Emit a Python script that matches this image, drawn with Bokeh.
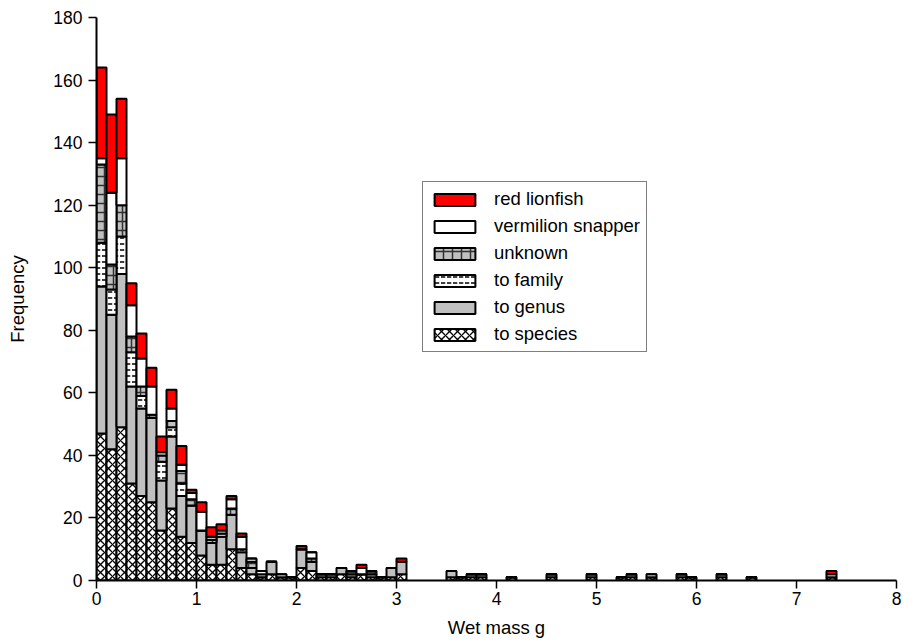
from bokeh.plotting import figure
from bokeh.models import Range1d, Legend, LegendItem, FixedTicker, ColumnDataSource
from bokeh.transform import stack
from bokeh.embed import file_html
from bokeh.resources import INLINE

# ---- data (bin left edges, bin width 0.1 g) ----
bin_left = [0.0, 0.1, 0.2, 0.3, 0.4, 0.5, 0.6, 0.7, 0.8, 0.9,
            1.0, 1.1, 1.2, 1.3, 1.4, 1.5, 1.6, 1.7, 1.8, 1.9,
            2.0, 2.1, 2.2, 2.3, 2.4, 2.5, 2.6, 2.7, 2.8, 2.9,
            3.0, 3.5, 3.6, 3.7, 3.8, 4.1, 4.5, 4.9, 5.2, 5.3,
            5.5, 5.8, 5.9, 6.2, 6.5, 7.3]
to_species = [47, 42, 49, 31, 27, 25, 16, 23, 14, 12,
              8, 5, 5, 10, 4, 2, 1, 2, 1, 1,
              4, 3, 1, 1, 2, 1, 2, 1, 1, 1,
              2, 1, 1, 1, 1, 1, 1, 1, 1, 1,
              1, 1, 1, 1, 1, 1]
to_genus = [47, 43, 49, 31, 28, 27, 16, 23, 13, 12,
            8, 7, 9, 11, 5, 2, 0, 4, 0, 0,
            6, 3, 1, 1, 2, 1, 0, 1, 0, 3,
            4, 2, 0, 1, 1, 0, 1, 1, 0, 1,
            0, 1, 0, 1, 0, 0]
to_family = [14, 8, 12, 11, 4, 0, 6, 3, 4, 0,
             0, 0, 1, 0, 1, 0, 0, 0, 0, 0,
             0, 0, 0, 0, 0, 0, 0, 0, 0, 0,
             0, 0, 0, 0, 0, 0, 0, 0, 0, 0,
             0, 0, 0, 0, 0, 0]
unknown = [25, 8, 10, 5, 3, 1, 2, 2, 4, 2,
           0, 1, 0, 2, 0, 2, 1, 0, 0, 0,
           0, 1, 0, 0, 0, 1, 0, 1, 0, 0,
           0, 0, 0, 0, 0, 0, 0, 0, 0, 0,
           0, 0, 0, 0, 0, 0]
vermilion_snapper = [2, 23, 15, 10, 9, 9, 1, 4, 2, 2,
                     6, 1, 1, 3, 4, 1, 1, 0, 1, 0,
                     0, 2, 0, 0, 0, 0, 2, 0, 0, 0,
                     0, 0, 0, 0, 0, 0, 0, 0, 0, 0,
                     1, 0, 0, 0, 0, 1]
red_lionfish = [29, 25, 19, 7, 8, 6, 5, 6, 6, 1,
                3, 3, 2, 1, 1, 0, 0, 0, 0, 0,
                1, 0, 0, 0, 0, 0, 1, 0, 0, 0,
                1, 0, 0, 0, 0, 0, 0, 0, 0, 0,
                0, 0, 0, 0, 0, 1]
bin_width = 0.1

series_keys = ["species", "genus", "family", "unknown", "vermilion", "red"]
series_labels = ["to species", "to genus", "to family", "unknown",
                 "vermilion snapper", "red lionfish"]

src = ColumnDataSource(dict(
    x=[b + bin_width / 2 for b in bin_left],
    species=to_species, genus=to_genus, family=to_family,
    unknown=unknown, vermilion=vermilion_snapper, red=red_lionfish,
))

FONT = "Liberation Sans"

p = figure(frame_width=800, frame_height=563, x_range=Range1d(0, 8), y_range=Range1d(0, 180),
           output_backend="svg", toolbar_location=None,
           min_border_left=96, min_border_right=17, min_border_top=17,
           min_border_bottom=64)
p.outline_line_color = None
p.xgrid.visible = False
p.ygrid.visible = False

styles = {
    "species": dict(fill_color="white", hatch_pattern="diagonal_cross", hatch_color="black",
                    hatch_scale=8, hatch_weight=1.3),
    "genus": dict(fill_color="#C0C0C0"),
    "family": dict(fill_color="white", hatch_pattern="horizontal_dash", hatch_color="black",
                   hatch_scale=6, hatch_weight=1.5),
    "unknown": dict(fill_color="#C0C0C0", hatch_pattern="cross", hatch_color="#303030",
                    hatch_scale=9, hatch_weight=1.5),
    "vermilion": dict(fill_color="white"),
    "red": dict(fill_color="#FF0000"),
}

renderers = {}
for i, key in enumerate(series_keys):
    bottom = stack(*series_keys[:i]) if i > 0 else 0
    top = stack(*series_keys[:i + 1])
    r = p.vbar(x="x", width=bin_width, bottom=bottom, top=top, source=src,
               line_color="black", line_width=2, **styles[key])
    renderers[key] = r

# axes
for ax in (p.xaxis[0], p.yaxis[0]):
    ax.axis_line_width = 2
    ax.axis_line_color = "black"
    ax.major_tick_line_width = 1.5
    ax.major_tick_line_color = "black"
    ax.major_tick_out = 8
    ax.major_tick_in = 0
    ax.minor_tick_line_color = None
    ax.major_label_text_font = FONT
    ax.major_label_text_font_size = "17.5px"
    ax.major_label_text_color = "black"
    ax.axis_label_text_font = FONT
    ax.axis_label_text_font_size = "18.5px"
    ax.axis_label_text_font_style = "normal"
    ax.axis_label_text_color = "black"

p.xaxis.ticker = FixedTicker(ticks=[0, 1, 2, 3, 4, 5, 6, 7, 8])
p.yaxis.ticker = FixedTicker(ticks=[0, 20, 40, 60, 80, 100, 120, 140, 160, 180])
p.xaxis.axis_label = "Wet mass g"
p.yaxis.axis_label = "Frequency"
p.xaxis.major_label_standoff = 3
p.yaxis.major_label_standoff = 6
p.xaxis.axis_label_standoff = 9
p.yaxis.axis_label_standoff = 22

order = ["red", "vermilion", "unknown", "family", "genus", "species"]
items = [LegendItem(label=series_labels[series_keys.index(k)], renderers=[renderers[k]])
         for k in order]
legend = Legend(items=items, location=(326, 228), margin=0, padding=6, spacing=5,
                glyph_width=51, glyph_height=15, label_height=20, label_standoff=14,
                label_text_font=FONT, label_text_font_size="18.5px",
                label_text_color="black",
                border_line_color="black", border_line_width=1,
                background_fill_color="white", background_fill_alpha=1.0)
p.add_layout(legend)

open("out.html", "w").write(file_html(p, INLINE))
